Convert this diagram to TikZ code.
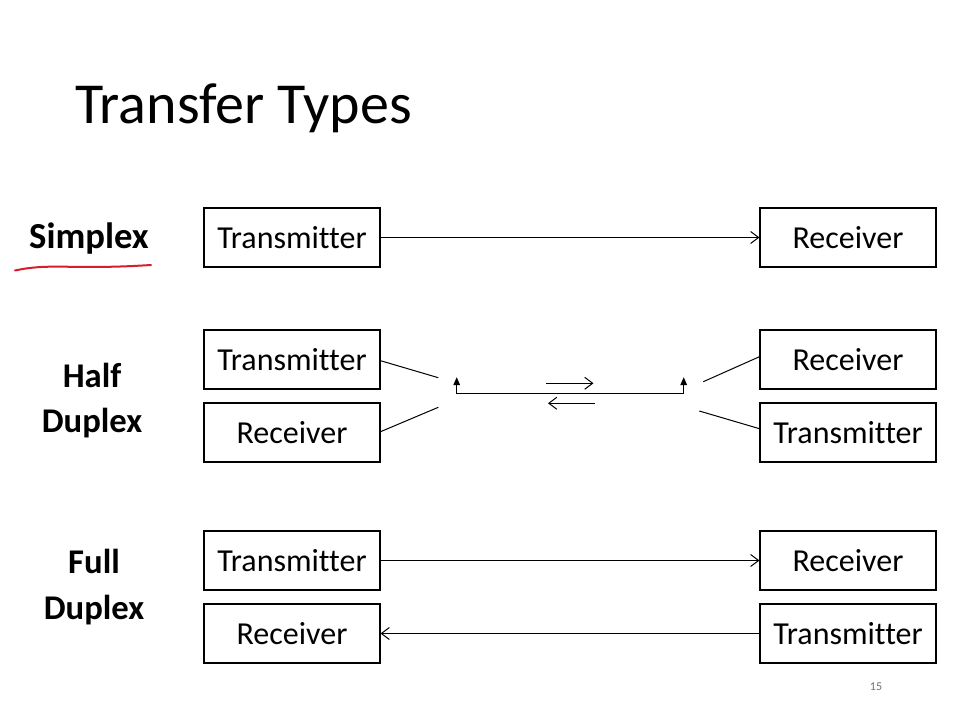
\documentclass[tikz,border=0pt]{standalone}
\usepackage{fontspec}
\setmainfont{Carlito}[Ligatures=NoCommon]
\usetikzlibrary{arrows.meta}
\definecolor{inkred}{RGB}{215,30,45}
\begin{document}
\begin{tikzpicture}[x=0.75pt,y=-0.75pt,
  box/.style={draw=black,line width=0.8pt,minimum width=132pt,minimum height=44.25pt,inner sep=0pt,font=\fontsize{24}{28}\selectfont},
  lbl/.style={font=\fontsize{26}{34.3}\selectfont\bfseries,align=center,inner sep=0pt},
  conn/.style={line width=0.75pt},
  barb/.style={conn,-{Straight Barb[length=6pt,width=9pt,line width=0.75pt]}},
  tri/.style={conn,-{Triangle[length=6pt,width=5pt]}}]
\useasboundingbox (0,0) rectangle (960,720);
\fill[white] (0,0) rectangle (960,720);
% title
\node[anchor=base west,inner sep=0pt,font=\fontsize{43.5}{50}\selectfont] (title) at (75,124) {Transfer Types};
% labels
\node[lbl,anchor=base,font=\fontsize{27.5}{34}\selectfont\bfseries] (lsimplex) at (89,248.5) {Simplex};
\node[lbl] (lhalf) at (92,400.5) {Half\\Duplex};
\node[lbl] (lfull) at (94,587) {Full\\Duplex};
% red underline
\draw[inkred,line width=1.5pt,line cap=round] (15,270.5) .. controls (40,265) and (60,267) .. (90,267) .. controls (115,267) and (135,266) .. (151,265);
% simplex
\node[box] (st) at (292,237.5) {Transmitter};
\node[box] (sr) at (848,237.5) {Receiver};
\draw[barb] (st) -- (sr);
% half duplex
\node[box] (ht) at (292,359.5) {Transmitter};
\node[box] (hr) at (292,432.5) {Receiver};
\node[box] (hr2) at (848,359.5) {Receiver};
\node[box] (ht2) at (848,432.5) {Transmitter};
\coordinate (a1) at (438.3,377.7);
\coordinate (a2) at (438.3,407.3);
\coordinate (b1) at (703.3,381.7);
\coordinate (b2) at (699.3,411);
\draw[conn] (ht.east |- 0,360.7) -- (a1);
\draw[conn] (hr.east |- 0,431.7) -- (a2);
\draw[conn] (hr2.west |- 0,356.7) -- (b1);
\draw[conn] (ht2.west |- 0,428.7) -- (b2);
\coordinate (lb) at (456.7,393.3);
\coordinate (lt) at (456.7,377.2);
\coordinate (rb) at (683.7,393.3);
\coordinate (rt) at (683.7,377.2);
\draw[tri] (rb) -- (lb) -- (lt);
\draw[tri] (lb) -- (rb) -- (rt);
\coordinate (f1) at (546,383.3);
\coordinate (f2) at (593.5,383.3);
\coordinate (g1) at (595,403.3);
\coordinate (g2) at (548,403.3);
\draw[barb] (f1) -- (f2);
\draw[barb] (g1) -- (g2);
% full duplex
\node[box] (ft) at (292,560.5) {Transmitter};
\node[box] (fr) at (292,633.5) {Receiver};
\node[box] (fr2) at (848,560.5) {Receiver};
\node[box] (ft2) at (848,633.5) {Transmitter};
\draw[barb] (ft) -- (fr2);
\draw[barb] (ft2) -- (fr);
% page number
\node[font=\fontsize{9}{10}\selectfont,text=black!55] (pg) at (876,687) {15};
\end{tikzpicture}
\end{document}
